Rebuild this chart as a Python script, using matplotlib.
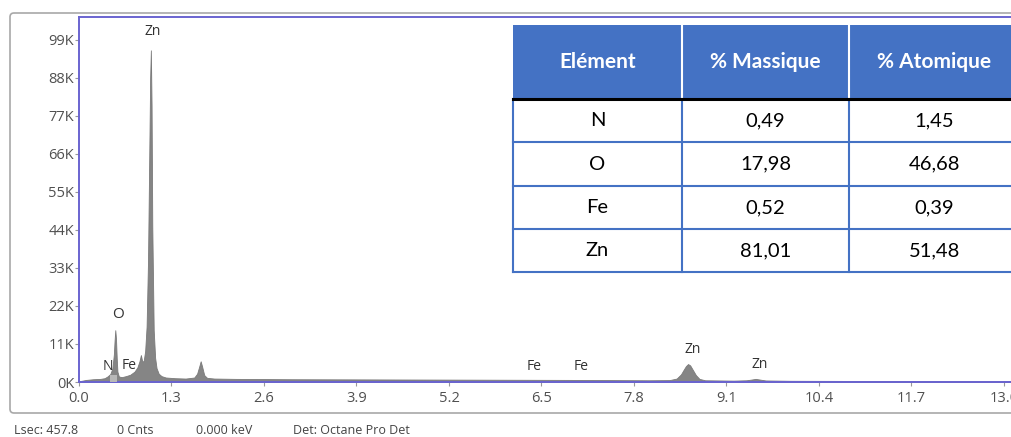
import matplotlib
matplotlib.use("Agg")
import matplotlib.pyplot as plt
from matplotlib.patches import Rectangle, FancyBboxPatch

# spectrum: energy (keV), counts (K)
energy = [0.00, 0.05, 0.10, 0.20, 0.30, 0.36, 0.40, 0.44, 0.47, 0.49, 0.50, 0.51, 0.52,
          0.53, 0.54, 0.56, 0.60, 0.66, 0.72, 0.78, 0.82, 0.85, 0.87, 0.89, 0.91, 0.93,
          0.95, 0.97, 0.99, 1.00, 1.01, 1.02, 1.03, 1.05, 1.07, 1.09, 1.12, 1.16, 1.22,
          1.35, 1.50, 1.62, 1.66, 1.69, 1.71, 1.73, 1.76, 1.80, 1.90, 2.20, 3.00, 4.00,
          5.00, 6.00, 7.00, 8.00, 8.30, 8.40, 8.46, 8.50, 8.53, 8.56, 8.59, 8.63, 8.67,
          8.72, 8.80, 9.20, 9.38, 9.45, 9.51, 9.57, 9.65, 10.00, 11.00, 12.00, 13.30]
counts = [0.2, 0.4, 0.6, 0.8, 0.9, 1.1, 1.6, 2.3, 4.0, 8.0, 12.0, 15.0, 12.5,
          7.0, 3.0, 1.6, 1.4, 1.7, 2.1, 3.0, 4.2, 6.0, 7.8, 5.8, 6.2, 9.0,
          16.0, 35.0, 70.0, 88.0, 96.0, 80.0, 45.0, 15.0, 7.0, 4.0, 2.4, 1.7, 1.3,
          1.1, 1.0, 1.3, 2.4, 4.5, 6.0, 4.5, 2.0, 1.2, 1.0, 0.9, 0.8, 0.75,
          0.7, 0.65, 0.6, 0.5, 0.55, 1.0, 2.2, 3.6, 4.6, 5.2, 4.8, 3.4, 2.0,
          0.9, 0.5, 0.4, 0.5, 0.7, 0.9, 0.7, 0.45, 0.35, 0.3, 0.25, 0.2]

# ROI highlight around the N / O lines
roi_lo, roi_hi = 0.44, 0.54

# peak labels: (text, energy, K)
peak_labels = [("Zn", 1.03, 101.5), ("O", 0.55, 19.5), ("N", 0.41, 4.6), ("Fe", 0.71, 4.9),
               ("Fe", 6.40, 4.6), ("Fe", 7.06, 4.4), ("Zn", 8.63, 9.3), ("Zn", 9.57, 5.2)]

y_ticks = [0, 11, 22, 33, 44, 55, 66, 77, 88, 99]
x_ticks = [0.0, 1.3, 2.6, 3.9, 5.2, 6.5, 7.8, 9.1, 10.4, 11.7, 13.0]

status = ["Lsec: 457.8", "0 Cnts", "0.000 keV", "Det: Octane Pro Det"]

# composition table
columns = ["Elément", "% Massique", "% Atomique"]
elements = ["N", "O", "Fe", "Zn"]
massique = ["0,49", "17,98", "0,52", "81,01"]
atomique = ["1,45", "46,68", "0,39", "51,48"]

W, H = 1012, 437
fig = plt.figure(figsize=(W / 100, H / 100), dpi=100)
fig.patch.set_facecolor("white")

spine_col = "#6a64d0"
tick_col = "#505050"

# spectrum axes (runs past the right edge like the screenshot)
ax = fig.add_axes([79 / W, 1 - 382 / H, 941 / W, 365 / H])
ax.fill_between(energy, counts, color="#858585", lw=0.6, edgecolor="#7a7a7a", zorder=2)
roi_e = [e for e in energy if roi_lo <= e <= roi_hi]
roi_c = [c for e, c in zip(energy, counts) if roi_lo <= e <= roi_hi]
ax.fill_between(roi_e, [min(c, 2.0) for c in roi_c], color="#b8b8b8", lw=0, zorder=3)
ax.set_xlim(0, 941 / 71.15)
ax.set_ylim(0, 365 / 3.455)
ax.set_yticks(y_ticks)
ax.set_yticklabels([f"{v}K" for v in y_ticks])
ax.set_xticks(x_ticks)
ax.set_xticklabels([f"{v:.1f}" for v in x_ticks])
ax.tick_params(axis="both", colors="#999999", labelcolor=tick_col, labelsize=10.5,
               length=3, width=0.8, pad=0.5)
ax.tick_params(axis="x", pad=3.5)
for lab in ax.get_xticklabels() + ax.get_yticklabels():
    lab.set_family("Open Sans")
for s in ["left", "bottom", "top"]:
    ax.spines[s].set_color(spine_col)
    ax.spines[s].set_linewidth(1.4)
ax.spines["right"].set_visible(False)

for txt, e, k in peak_labels:
    ax.text(e, k, txt, ha="center", va="center", fontsize=10 if txt != "O" else 11,
            color="#333333", family="Open Sans", zorder=4)

# overlay in pixel coordinates for frame, status line and table
ov = fig.add_axes([0, 0, 1, 1], zorder=5)
ov.set_xlim(0, W)
ov.set_ylim(H, 0)
ov.axis("off")

ov.add_patch(FancyBboxPatch((10, 13), 1040, 400, boxstyle="round,pad=0,rounding_size=4",
                            fill=False, ec="#a8a8a8", lw=1.2))

for txt, x in zip(status, [14, 117, 196, 293]):
    ov.text(x, 430, txt, ha="left", va="center", fontsize=9, color="#444444",
            family="Open Sans")

# table
blue = "#4472c4"
col_x = [513, 682, 849, 1020]
row_y = [25, 99, 142, 186, 229, 272]
ov.add_patch(Rectangle((col_x[0], row_y[0]), col_x[-1] - col_x[0], row_y[-1] - row_y[0],
                       fc="white", ec="none"))
ov.add_patch(Rectangle((col_x[0], row_y[0]), col_x[-1] - col_x[0], row_y[1] - row_y[0],
                       fc=blue, ec="none"))
for i, name in enumerate(columns):
    cx = (col_x[i] + col_x[i + 1]) / 2
    ov.text(cx, (row_y[0] + row_y[1]) / 2, name, ha="center", va="center",
            fontsize=15, color="white", fontweight="bold", family="Lato")
for x in col_x[1:-1]:
    ov.plot([x, x], [row_y[0], row_y[1]], color="white", lw=1.5)
rows = list(zip(elements, massique, atomique))
for r, vals in enumerate(rows):
    cy = (row_y[r + 1] + row_y[r + 2]) / 2
    for i, v in enumerate(vals):
        cx = (col_x[i] + col_x[i + 1]) / 2
        ov.text(cx, cy, v, ha="center", va="center", fontsize=14.5, color="black",
                family="Lato")
for y in row_y[2:]:
    ov.plot([col_x[0], col_x[-1]], [y, y], color=blue, lw=1.5)
for x in col_x[:-1]:
    ov.plot([x, x], [row_y[1], row_y[-1]], color=blue, lw=1.5)
ov.plot([col_x[0], col_x[-1]], [row_y[1], row_y[1]], color="black", lw=2.2)

fig.savefig("out.png", dpi=100)
